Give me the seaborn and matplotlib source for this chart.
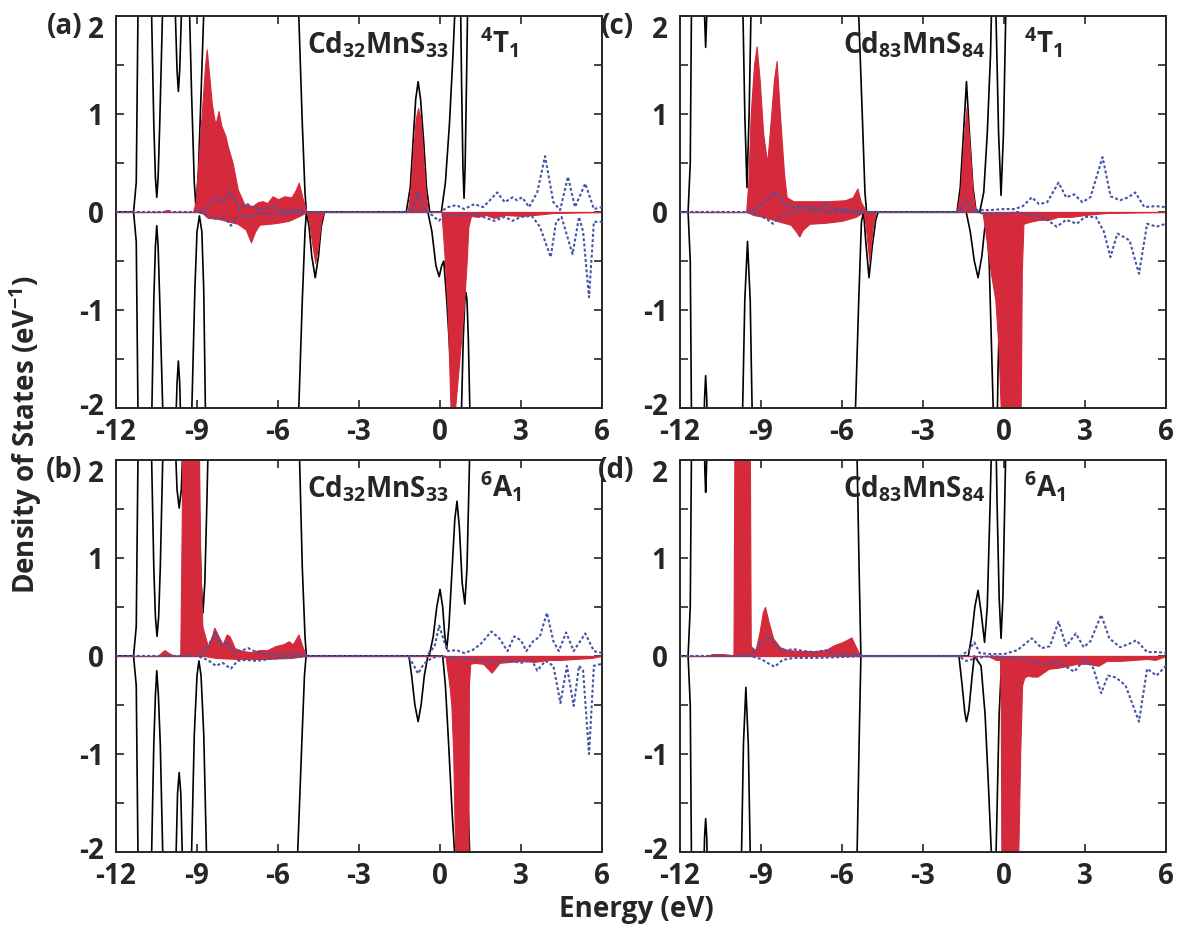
import numpy as np
import matplotlib
matplotlib.use("Agg")
import matplotlib.pyplot as plt
import matplotlib.transforms as mtrans
import seaborn as sns

sns.set_style("ticks")
plt.rcParams["font.family"] = ["Open Sans", "DejaVu Sans"]
plt.rcParams["font.weight"] = "bold"
plt.rcParams["mathtext.fontset"] = "custom"
plt.rcParams["mathtext.rm"] = "Open Sans:bold"
plt.rcParams["mathtext.it"] = "Open Sans:bold"
plt.rcParams["mathtext.bf"] = "Open Sans:bold"
plt.rcParams["mathtext.default"] = "rm"
plt.rcParams["axes.unicode_minus"] = False

# axis ticks / labels
x_ticks = [-12, -9, -6, -3, 0, 3, 6]
x_labels = ["-12", "-9", "-6", "-3", "0", "3", "6"]
y_ticks = [-2, -1.5, -1, -0.5, 0, 0.5, 1, 1.5, 2]
y_labels = ["-2", "", "-1", "", "0", "", "1", "", "2"]

panel_tags = ["(a)", "(b)", "(c)", "(d)"]
systems = [r"Cd$_{32}$MnS$_{33}$", r"Cd$_{32}$MnS$_{33}$",
           r"Cd$_{83}$MnS$_{84}$", r"Cd$_{83}$MnS$_{84}$"]
states = [r"$^{4}$T$_{1}$", r"$^{6}$A$_{1}$", r"$^{4}$T$_{1}$", r"$^{6}$A$_{1}$"]

# ---- panel (a): Cd32MnS33, 4T1 ----
a_tot_up = [(-12, 0), (-11.35, 0), (-11.25, 0.3), (-11.15, 3), (-10.8, 4), (-10.68, 2.0), (-10.6, 0.9),
            (-10.54, 0.35), (-10.49, 0.15), (-10.44, 0.35), (-10.38, 0.9), (-10.28, 2.0), (-10.1, 4),
            (-9.85, 3), (-9.8, 2.0), (-9.74, 1.45), (-9.69, 1.23), (-9.64, 1.45), (-9.58, 2.0), (-9.45, 3.5),
            (-9.3, 2.3), (-9.2, 1.2), (-9.1, 0.3), (-9.04, 0.05), (-8.95, 0.4), (-8.85, 1.2), (-8.73, 2.2),
            (-8.5, 4), (-6, 5), (-5.3, 2.8), (-5.23, 2.0), (-5.1, 0.9), (-5.0, 0.2), (-4.95, 0), (-1.25, 0),
            (-1.1, 0.25), (-1.0, 0.7), (-0.9, 1.15), (-0.81, 1.33), (-0.72, 1.15), (-0.6, 0.7), (-0.5, 0.25),
            (-0.38, 0), (0.05, 0), (0.2, 0.3), (0.35, 0.9), (0.48, 1.6), (0.56, 2.1), (0.66, 3), (0.74, 2.6),
            (0.8, 1.3), (0.85, 0.45), (0.89, 0.14), (0.93, 0.45), (0.98, 1.3), (1.05, 2.6), (1.2, 4), (6, 4)]
a_tot_dn = [(-12, 0), (-11.35, 0), (-11.25, -0.3), (-11.15, -3), (-10.8, -4), (-10.67, -2.0), (-10.6, -0.9),
            (-10.54, -0.35), (-10.49, -0.14), (-10.44, -0.35), (-10.38, -0.9), (-10.27, -2.0), (-10.0, -4),
            (-9.8, -2.3), (-9.74, -1.75), (-9.69, -1.52), (-9.64, -1.75), (-9.59, -2.3), (-9.45, -4),
            (-9.19, -2.0), (-9.08, -0.8), (-9.0, -0.2), (-8.91, -0.04), (-8.82, -0.2), (-8.75, -0.8),
            (-8.69, -2.0), (-8.5, -4), (-6, -5), (-5.3, -2.8), (-5.23, -2.0), (-5.1, -0.9), (-5.0, -0.2),
            (-4.95, 0), (-4.85, -0.15), (-4.75, -0.45), (-4.62, -0.67), (-4.5, -0.45), (-4.4, -0.15),
            (-4.28, 0), (-0.45, 0), (-0.3, -0.2), (-0.15, -0.55), (-0.03, -0.66), (0.06, -0.55), (0.14, -0.5),
            (0.25, -0.9), (0.38, -1.5), (0.49, -2.0), (0.6, -3.5), (0.78, -2.2), (0.86, -1.3), (0.92, -0.9),
            (0.96, -0.82), (1.0, -0.9), (1.05, -1.3), (1.12, -2.2), (1.3, -4), (6, -4)]
a_mn_up = [(-12, 0), (-10.25, 0), (-10.15, 0.02), (-10.05, 0.02), (-9.95, 0), (-9.15, 0), (-9.05, 0.1),
           (-8.95, 0.5), (-8.8, 1.1), (-8.7, 1.5), (-8.64, 1.66), (-8.55, 1.4), (-8.45, 1.1), (-8.32, 0.89),
           (-8.2, 1.03), (-8.1, 0.88), (-7.95, 0.78), (-7.86, 0.67), (-7.68, 0.5), (-7.49, 0.23),
           (-7.25, 0.08), (-6.94, 0.06), (-6.75, 0.1), (-6.57, 0.11), (-6.4, 0.09), (-6.2, 0.16), (-6.0, 0.13),
           (-5.77, 0.16), (-5.5, 0.15), (-5.35, 0.22), (-5.23, 0.30), (-5.1, 0.15), (-4.94, 0), (-1.2, 0),
           (-1.1, 0.2), (-1.0, 0.6), (-0.9, 0.95), (-0.81, 1.06), (-0.72, 0.95), (-0.62, 0.55), (-0.52, 0.15),
           (-0.45, 0), (6, 0)]
a_mn_dn = [(-12, 0), (-8.85, 0), (-8.6, -0.06), (-8.2, -0.07), (-7.93, -0.09), (-7.5, -0.12), (-7.19, -0.18),
           (-7.0, -0.31), (-6.85, -0.2), (-6.69, -0.13), (-6.3, -0.12), (-6.0, -0.11), (-5.6, -0.09),
           (-5.2, -0.04), (-4.94, 0), (-4.85, -0.1), (-4.72, -0.35), (-4.62, -0.52), (-4.52, -0.35),
           (-4.4, -0.08), (-4.3, 0), (0.05, 0), (0.12, -0.25), (0.18, -0.5), (0.28, -1.0), (0.39, -2.0),
           (0.47, -2.8), (0.56, -2.0), (0.72, -1.5), (0.875, -1.0), (0.99, -0.5), (1.05, -0.15), (1.15, -0.04),
           (1.4, -0.05), (1.7, -0.03), (2.0, -0.06), (2.4, -0.03), (3.0, -0.04), (3.5, -0.03), (4.2, -0.01),
           (6, 0)]
a_p_up = [(-12, 0), (-9.0, 0), (-8.7, 0.03), (-8.5, 0.1), (-8.3, 0.15), (-8.1, 0.1), (-7.95, 0.12),
          (-7.78, 0.21), (-7.6, 0.12), (-7.45, 0.03), (-7.3, 0.06), (-7.12, 0.08), (-6.9, 0.04), (-6.6, 0.03),
          (-6.2, 0.05), (-5.8, 0.02), (-5.3, 0.02), (-5.0, 0), (-1.2, 0), (-1.0, 0.05), (-0.81, 0.2),
          (-0.65, 0.05), (-0.4, 0), (0.0, 0.0), (0.3, 0.05), (0.6, 0.07), (0.9, 0.03), (1.27, 0.08),
          (1.6, 0.05), (1.85, 0.12), (2.12, 0.2), (2.4, 0.1), (2.69, 0.15), (2.85, 0.12), (3.04, 0.15),
          (3.3, 0.05), (3.6, 0.2), (3.89, 0.57), (4.2, 0.1), (4.45, 0.02), (4.74, 0.36), (5.0, 0.05),
          (5.38, 0.29), (5.7, 0.03), (6, 0.05)]
a_p_dn = [(-12, 0), (-9.0, 0), (-8.6, -0.03), (-8.23, -0.08), (-8.0, -0.05), (-7.74, -0.14), (-7.5, -0.05),
          (-7.3, -0.03), (-7.06, -0.06), (-6.8, -0.02), (-6.0, -0.02), (-5.0, 0), (-0.5, 0), (-0.3, -0.03),
          (-0.05, -0.09), (0.2, -0.03), (0.8, -0.03), (1.3, -0.02), (1.6, -0.05), (2.0, -0.09), (2.4, -0.05),
          (2.69, -0.09), (3.0, -0.05), (3.4, -0.04), (3.7, -0.15), (4.1, -0.46), (4.3, -0.1), (4.5, -0.05),
          (4.91, -0.43), (5.15, -0.05), (5.3, -0.2), (5.52, -0.87), (5.7, -0.1), (6, -0.1)]

# ---- panel (b): Cd32MnS33, 6A1 ----
b_tot_up = [(-12, 0), (-11.35, 0), (-11.25, 0.3), (-11.15, 3), (-10.8, 4), (-10.68, 2.0), (-10.6, 0.9),
            (-10.54, 0.4), (-10.48, 0.2), (-10.42, 0.4), (-10.36, 0.9), (-10.27, 2.0), (-10.0, 4),
            (-9.82, 2.3), (-9.74, 1.7), (-9.66, 1.51), (-9.58, 1.7), (-9.5, 2.3), (-9.3, 4), (-9.0, 2.6),
            (-8.92, 1.5), (-8.85, 0.75), (-8.78, 0.44), (-8.71, 0.75), (-8.64, 1.5), (-8.55, 2.6), (-8.3, 4),
            (-6, 5), (-5.3, 2.8), (-5.2, 2.0), (-5.1, 0.9), (-5.0, 0.2), (-4.95, 0), (-0.4, 0), (-0.25, 0.2),
            (-0.12, 0.5), (0.0, 0.68), (0.1, 0.5), (0.18, 0.2), (0.25, 0.07), (0.33, 0.3), (0.45, 0.9),
            (0.55, 1.4), (0.63, 1.58), (0.72, 1.3), (0.82, 0.75), (0.92, 0.53), (1.0, 0.9), (1.06, 1.6),
            (1.12, 2.3), (1.3, 4), (6, 4)]
b_tot_dn = [(-12, 0), (-11.35, 0), (-11.25, -0.3), (-11.15, -3), (-10.8, -4), (-10.68, -2.0), (-10.6, -0.9),
            (-10.54, -0.4), (-10.49, -0.15), (-10.43, -0.4), (-10.36, -0.9), (-10.27, -2.0), (-10.0, -4),
            (-9.79, -2.2), (-9.72, -1.4), (-9.66, -1.19), (-9.6, -1.4), (-9.53, -2.2), (-9.4, -4),
            (-9.2, -2.0), (-9.1, -0.8), (-9.0, -0.2), (-8.93, -0.05), (-8.85, -0.2), (-8.75, -0.8),
            (-8.65, -2.0), (-8.5, -4), (-6, -5), (-5.35, -2.8), (-5.27, -2.0), (-5.12, -0.9), (-5.02, -0.2),
            (-4.96, 0), (-1.15, 0), (-1.05, -0.2), (-0.93, -0.5), (-0.81, -0.67), (-0.7, -0.5), (-0.58, -0.2),
            (-0.45, 0), (0.1, 0), (0.2, -0.3), (0.32, -0.9), (0.45, -1.6), (0.56, -2.1), (0.7, -3),
            (0.85, -2.0), (0.93, -1.6), (0.99, -1.5), (1.05, -1.6), (1.12, -2.2), (1.3, -4), (6, -4)]
b_mn_up = [(-12, 0), (-10.45, 0), (-10.3, 0.04), (-10.2, 0.06), (-10.05, 0.03), (-9.9, 0.01), (-9.62, 0),
           (-9.56, 1.5), (-9.52, 4), (-9.1, 5), (-8.95, 2.6), (-8.88, 1.0), (-8.8, 0.3), (-8.6, 0.1),
           (-8.45, 0.2), (-8.36, 0.29), (-8.2, 0.2), (-8.05, 0.12), (-7.9, 0.22), (-7.79, 0.2), (-7.6, 0.08),
           (-7.3, 0.05), (-7.0, 0.04), (-6.7, 0.06), (-6.4, 0.06), (-6.1, 0.1), (-5.8, 0.12), (-5.6, 0.15),
           (-5.45, 0.12), (-5.24, 0.22), (-5.1, 0.1), (-4.96, 0), (6, 0)]
b_mn_dn = [(-12, 0), (-8.7, 0), (-8.3, -0.02), (-7.5, -0.03), (-6.5, -0.03), (-5.5, -0.02), (-5.0, 0),
           (0.2, 0), (0.25, -0.1), (0.35, -0.3), (0.42, -0.5), (0.49, -1.0), (0.56, -2.0), (0.7, -2.8),
           (1.0, -2.8), (1.05, -2.0), (1.07, -0.3), (1.12, -0.08), (1.27, -0.07), (1.6, -0.08), (1.91, -0.17),
           (2.2, -0.07), (2.6, -0.06), (3.0, -0.05), (3.5, -0.06), (4.0, -0.04), (4.5, -0.04), (5.0, -0.03),
           (5.6, -0.02), (6, 0)]
b_p_up = [(-12, 0), (-9.0, 0), (-8.7, 0.05), (-8.5, 0.15), (-8.3, 0.24), (-8.1, 0.1), (-7.9, 0.15),
          (-7.7, 0.05), (-7.4, 0.05), (-7.1, 0.08), (-6.8, 0.04), (-6.5, 0.02), (-5.5, 0.02), (-5.0, 0),
          (-0.5, 0), (-0.2, 0.1), (-0.03, 0.31), (0.15, 0.15), (0.3, 0.05), (0.6, 0.06), (0.9, 0.03),
          (1.2, 0.06), (1.5, 0.12), (1.9, 0.25), (2.2, 0.18), (2.5, 0.05), (2.75, 0.2), (3.0, 0.16),
          (3.2, 0.05), (3.45, 0.15), (3.7, 0.2), (3.96, 0.44), (4.2, 0.15), (4.4, 0.05), (4.67, 0.24),
          (4.95, 0.05), (5.38, 0.23), (5.7, 0.05), (6, 0.03)]
b_p_dn = [(-12, 0), (-9.0, 0), (-8.6, -0.04), (-8.3, -0.1), (-8.05, -0.07), (-7.75, -0.13), (-7.5, -0.05),
          (-7.2, -0.04), (-6.8, -0.05), (-6.0, -0.02), (-5.0, 0), (-1.2, 0), (-1.0, -0.08), (-0.81, -0.18),
          (-0.6, -0.08), (-0.3, -0.02), (0.0, 0), (0.5, -0.02), (1.0, -0.03), (1.5, -0.04), (2.0, -0.06),
          (2.5, -0.04), (3.0, -0.07), (3.4, -0.04), (3.6, -0.15), (3.9, -0.05), (4.2, -0.1), (4.46, -0.48),
          (4.7, -0.1), (4.95, -0.51), (5.15, -0.1), (5.3, -0.15), (5.52, -1.0), (5.7, -0.1), (6, -0.08)]

# ---- panel (c): Cd83MnS84, 4T1 ----
c_tot_up = [(-12, 0), (-11.7, 0), (-11.62, 0.5), (-11.55, 3), (-11.3, 4), (-11.15, 3), (-11.09, 2.0),
            (-11.05, 1.68), (-11.01, 2.0), (-10.95, 3), (-10.0, 4), (-9.68, 2.2), (-9.6, 1.0), (-9.52, 0.25),
            (-9.44, 1.0), (-9.36, 2.2), (-9.2, 4), (-6, 5), (-5.5, 2.8), (-5.38, 2.0), (-5.25, 1.0),
            (-5.15, 0.2), (-5.09, 0), (-1.74, 0), (-1.62, 0.25), (-1.5, 0.8), (-1.39, 1.33), (-1.28, 0.8),
            (-1.15, 0.25), (-1.03, 0), (-0.9, 0), (-0.75, 0.2), (-0.62, 0.8), (-0.5, 1.6), (-0.42, 2.6),
            (-0.35, 2.6), (-0.28, 1.8), (-0.2, 0.8), (-0.11, 0.17), (-0.02, 0.8), (0.05, 1.8), (0.12, 2.8),
            (0.4, 4), (6, 4)]
c_tot_dn = [(-12, 0), (-11.7, 0), (-11.62, -0.5), (-11.55, -3), (-11.3, -4), (-11.15, -2.6), (-11.09, -1.9),
            (-11.05, -1.67), (-11.01, -1.9), (-10.95, -2.6), (-10.5, -4), (-9.68, -2.0), (-9.6, -0.9),
            (-9.5, -0.3), (-9.4, -0.9), (-9.33, -2.0), (-9.2, -4), (-6, -5), (-5.5, -2.0), (-5.38, -0.9),
            (-5.28, -0.1), (-5.2, 0), (-5.12, -0.3), (-5.0, -0.67), (-4.88, -0.35), (-4.75, -0.08),
            (-4.66, 0), (-1.4, 0), (-1.25, -0.2), (-1.1, -0.5), (-0.96, -0.67), (-0.82, -0.45), (-0.72, -0.18),
            (-0.64, -0.09), (-0.55, -0.5), (-0.47, -1.3), (-0.4, -2.0), (-0.3, -3), (-0.22, -1.6),
            (-0.16, -1.0), (-0.11, -0.84), (-0.06, -1.0), (0.0, -1.6), (0.07, -2.2), (0.3, -4), (6, -4)]
c_mn_up = [(-12, 0), (-9.55, 0), (-9.47, 0.3), (-9.38, 1.0), (-9.26, 1.5), (-9.16, 1.69), (-9.05, 1.35),
           (-8.92, 0.8), (-8.77, 0.5), (-8.65, 0.9), (-8.52, 1.35), (-8.42, 1.54), (-8.3, 1.0), (-8.15, 0.4),
           (-8.05, 0.15), (-7.8, 0.11), (-7.0, 0.11), (-6.5, 0.11), (-5.89, 0.12), (-5.6, 0.15),
           (-5.43, 0.24), (-5.3, 0.1), (-5.09, 0), (-1.75, 0), (-1.62, 0.2), (-1.5, 0.7), (-1.39, 1.07),
           (-1.28, 0.7), (-1.16, 0.2), (-1.05, 0), (6, 0)]
c_mn_dn = [(-12, 0), (-9.5, 0), (-9.3, -0.03), (-8.9, -0.05), (-8.3, -0.1), (-7.9, -0.13), (-7.7, -0.2),
           (-7.58, -0.25), (-7.45, -0.18), (-7.2, -0.12), (-6.6, -0.11), (-6.0, -0.09), (-5.5, -0.05),
           (-5.2, 0), (-5.12, -0.15), (-4.99, -0.5), (-4.86, -0.15), (-4.75, 0), (-0.8, 0), (-0.68, -0.22),
           (-0.5, -0.6), (-0.32, -0.9), (-0.2, -1.4), (-0.11, -2.1), (0.1, -2.8), (0.6, -2.7), (0.66, -0.6),
           (0.72, -0.12), (0.95, -0.1), (1.3, -0.08), (1.65, -0.08), (2.0, -0.05), (2.5, -0.05), (3.0, -0.03),
           (3.8, -0.01), (6, 0)]
c_p_up = [(-12, 0), (-9.5, 0), (-9.2, 0.03), (-8.9, 0.1), (-8.6, 0.17), (-8.42, 0.2), (-8.2, 0.1),
          (-7.9, 0.05), (-7.5, 0.06), (-7.2, 0.06), (-6.9, 0.03), (-6.6, 0.08), (-6.3, 0.03), (-5.8, 0.02),
          (-5.2, 0), (-1.7, 0), (-1.4, 0.12), (-1.1, 0.02), (-0.5, 0.02), (0.0, 0.03), (0.4, 0.03),
          (0.7, 0.06), (1.03, 0.15), (1.3, 0.08), (1.6, 0.1), (2.02, 0.3), (2.3, 0.15), (2.6, 0.18),
          (2.9, 0.1), (3.2, 0.15), (3.65, 0.56), (3.95, 0.16), (4.3, 0.12), (4.6, 0.15), (4.86, 0.2),
          (5.2, 0.05), (5.6, 0.06), (6, 0.05)]
c_p_dn = [(-12, 0), (-9.6, 0), (-9.2, -0.02), (-8.8, -0.07), (-8.55, -0.12), (-8.3, -0.05), (-8.0, 0.0),
          (-7.5, 0.02), (-6.5, 0.0), (-5.5, 0.0), (-1.0, 0), (-0.6, -0.03), (0.0, -0.02), (0.5, 0.0),
          (1.0, -0.03), (1.5, -0.06), (1.95, -0.15), (2.3, -0.08), (2.7, -0.12), (3.0, -0.05), (3.4, -0.05),
          (3.7, -0.2), (3.94, -0.46), (4.2, -0.22), (4.4, -0.25), (4.65, -0.29), (5.0, -0.63), (5.3, -0.12),
          (5.65, -0.15), (6, -0.12)]

# ---- panel (d): Cd83MnS84, 6A1 ----
d_tot_up = [(-12, 0), (-11.7, 0), (-11.62, 0.5), (-11.55, 3), (-11.3, 4), (-11.12, 2.6), (-11.08, 1.9),
            (-11.05, 1.67), (-11.02, 1.9), (-10.98, 2.6), (-10.5, 4), (-9.6, 2.5), (-9.52, 1.85),
            (-9.44, 2.5), (-9.2, 4), (-6, 5), (-5.55, 2.8), (-5.44, 2.0), (-5.36, 0.8), (-5.3, 0),
            (-1.32, 0), (-1.2, 0.2), (-1.08, 0.5), (-0.96, 0.67), (-0.85, 0.45), (-0.72, 0.14), (-0.62, 0.5),
            (-0.52, 1.5), (-0.42, 2.6), (-0.32, 2.6), (-0.26, 1.6), (-0.18, 0.6), (-0.11, 0.18), (-0.04, 0.6),
            (0.03, 1.6), (0.1, 2.6), (0.4, 4), (6, 4)]
d_tot_dn = [(-12, 0), (-11.7, 0), (-11.62, -0.5), (-11.55, -3), (-11.3, -4), (-11.14, -2.4), (-11.09, -1.85),
            (-11.05, -1.66), (-11.01, -1.85), (-10.96, -2.4), (-10.5, -4), (-9.72, -2.0), (-9.65, -0.9),
            (-9.56, -0.32), (-9.47, -0.9), (-9.4, -2.0), (-9.2, -4), (-6, -5), (-5.55, -2.8), (-5.44, -2.0),
            (-5.36, -0.8), (-5.3, 0), (-1.67, 0), (-1.55, -0.3), (-1.45, -0.58), (-1.39, -0.67),
            (-1.3, -0.55), (-1.18, -0.2), (-1.1, 0), (-0.85, -0.1), (-0.7, -0.6), (-0.58, -1.3), (-0.47, -2.0),
            (-0.36, -2.8), (-0.26, -1.6), (-0.18, -0.6), (-0.11, -0.18), (-0.04, -0.6), (0.03, -1.6),
            (0.1, -2.6), (0.4, -4), (6, -4)]
d_mn_up = [(-12, 0), (-11.0, 0), (-10.8, 0.02), (-10.4, 0.02), (-10.1, 0.01), (-10.02, 0), (-9.98, 2.5),
           (-9.9, 5), (-9.5, 5), (-9.42, 2.5), (-9.38, 0.1), (-9.2, 0.06), (-9.05, 0.25), (-8.93, 0.45),
           (-8.85, 0.5), (-8.72, 0.35), (-8.55, 0.18), (-8.3, 0.09), (-8.0, 0.06), (-7.5, 0.05), (-7.0, 0.05),
           (-6.6, 0.06), (-6.3, 0.11), (-6.0, 0.14), (-5.85, 0.16), (-5.65, 0.19), (-5.5, 0.1), (-5.32, 0),
           (6, 0)]
d_mn_dn = [(-12, 0), (-0.6, 0), (-0.45, -0.02), (-0.3, -0.04), (-0.15, -0.04), (-0.12, -0.5), (-0.09, -2.6),
           (0.5, -2.6), (0.53, -2.0), (0.6, -1.0), (0.67, -0.3), (0.75, -0.22), (0.88, -0.2), (1.05, -0.21),
           (1.24, -0.21), (1.45, -0.17), (1.66, -0.13), (2.0, -0.12), (2.37, -0.1), (2.7, -0.08),
           (3.1, -0.08), (3.5, -0.1), (3.8, -0.05), (4.3, -0.05), (4.8, -0.04), (5.3, -0.03), (5.6, -0.04),
           (6, 0)]
d_p_up = [(-12, 0), (-9.5, 0), (-9.2, 0.05), (-8.95, 0.15), (-8.7, 0.21), (-8.5, 0.12), (-8.2, 0.05),
          (-7.8, 0.07), (-7.4, 0.05), (-7.0, 0.04), (-6.6, 0.06), (-6.2, 0.02), (-5.5, 0.01), (-5.2, 0),
          (-1.6, 0), (-1.3, 0.06), (-1.1, 0.14), (-0.9, 0.03), (-0.5, 0.02), (0.0, 0.02), (0.5, 0.06),
          (1.03, 0.18), (1.4, 0.08), (1.7, 0.1), (2.02, 0.35), (2.3, 0.1), (2.66, 0.23), (2.95, 0.09),
          (3.2, 0.15), (3.6, 0.42), (3.9, 0.18), (4.3, 0.09), (4.6, 0.12), (4.9, 0.16), (5.3, 0.04),
          (5.7, 0.04), (6, 0.03)]
d_p_dn = [(-12, 0), (-9.4, 0), (-9.0, -0.03), (-8.7, -0.08), (-8.49, -0.11), (-8.2, -0.04), (-7.8, -0.02),
          (-7.0, -0.02), (-6.0, -0.01), (-5.2, 0), (-1.7, 0), (-1.4, -0.05), (-1.0, -0.02), (-0.5, 0),
          (0.5, -0.02), (1.0, -0.05), (1.5, -0.08), (2.0, -0.06), (2.6, -0.16), (3.0, -0.03), (3.3, -0.12),
          (3.6, -0.38), (3.85, -0.2), (4.15, -0.22), (4.5, -0.3), (5.0, -0.67), (5.3, -0.13), (5.65, -0.2),
          (6, -0.1)]

RED = "#d42a3b"
BLUE = "#4455a6"


def draw_panel(ax, tot_up, tot_dn, mn_up, mn_dn, p_up, p_dn):
    # total DOS (black), clipped by the axes
    for curve in (tot_up, tot_dn):
        xs, ys = np.array(curve).T
        sns.lineplot(x=xs, y=ys, ax=ax, color="black", lw=1.2, sort=False, estimator=None, zorder=1)
    # Mn d projection (red, filled)
    for curve in (mn_up, mn_dn):
        xs, ys = np.array(curve).T
        ax.fill_between(xs, 0, ys, color=RED, lw=0.8, zorder=2)
    # dotted blue projection
    for curve in (p_up, p_dn):
        xs, ys = np.array(curve).T
        sns.lineplot(x=xs, y=ys, ax=ax, color=BLUE, lw=1.5, linestyle=(0, (1.4, 1.1)),
                     sort=False, estimator=None, zorder=3)


fig = plt.figure(figsize=(11.77, 9.33), dpi=100)
W, H = 1177, 933
boxes = [(116, 16), (116, 460), (680, 16), (680, 460)]  # left, top in pixels
all_data = [
    (a_tot_up, a_tot_dn, a_mn_up, a_mn_dn, a_p_up, a_p_dn),
    (b_tot_up, b_tot_dn, b_mn_up, b_mn_dn, b_p_up, b_p_dn),
    (c_tot_up, c_tot_dn, c_mn_up, c_mn_dn, c_p_up, c_p_dn),
    (d_tot_up, d_tot_dn, d_mn_up, d_mn_dn, d_p_up, d_p_dn),
]
sys_x = [0.393, 0.393, 0.336, 0.336]
state_x = [0.749, 0.749, 0.707, 0.707]
tag_right = [82, 82, 634, 634]
raise_lbl = mtrans.ScaledTranslation(0, 4 / 100, fig.dpi_scale_trans)

for i, (left, top) in enumerate(boxes):
    ax = fig.add_axes([left / W, 1 - (top + 392) / H, 486 / W, 392 / H])
    draw_panel(ax, *all_data[i])
    ax.set_xlim(-12, 6)
    ax.set_ylim(-2, 2)
    ax.set_xticks(x_ticks)
    ax.set_xticklabels(x_labels)
    ax.set_yticks(y_ticks)
    ax.set_yticklabels(y_labels)
    ax.set_xlabel("")
    ax.set_ylabel("")
    ax.tick_params(direction="in", length=6, width=1.2, top=True, right=True, labelsize=20)
    ax.tick_params(axis="x", pad=7)
    ax.tick_params(axis="y", pad=9)
    for lab in ax.get_yticklabels():
        lab.set_fontweight("bold")
        if lab.get_text() == "2":
            lab.set_verticalalignment("top")
        if lab.get_text() == "-2":
            lab.set_transform(lab.get_transform() + raise_lbl)
    for lab in ax.get_xticklabels():
        lab.set_fontweight("bold")
    for sp in ax.spines.values():
        sp.set_linewidth(1.4)
    ax.text(sys_x[i], 0.905, systems[i], transform=ax.transAxes, fontsize=20,
            fontweight="bold", ha="left", va="baseline")
    ax.text(state_x[i], 0.905, states[i], transform=ax.transAxes, fontsize=20,
            fontweight="bold", ha="left", va="baseline")
    fig.text(tag_right[i] / W, 1 - (top + 10) / H, panel_tags[i], fontsize=20,
             fontweight="bold", ha="right", va="center")

fig.text(26 / W, 1 - 435 / H, r"Density of States (eV$^{-1}$)", rotation=90,
         fontsize=20, fontweight="bold", ha="center", va="center")
fig.text(636 / W, 1 - 910 / H, "Energy (eV)", fontsize=20, fontweight="bold",
         ha="center", va="center")

fig.savefig("out.png", dpi=100)
